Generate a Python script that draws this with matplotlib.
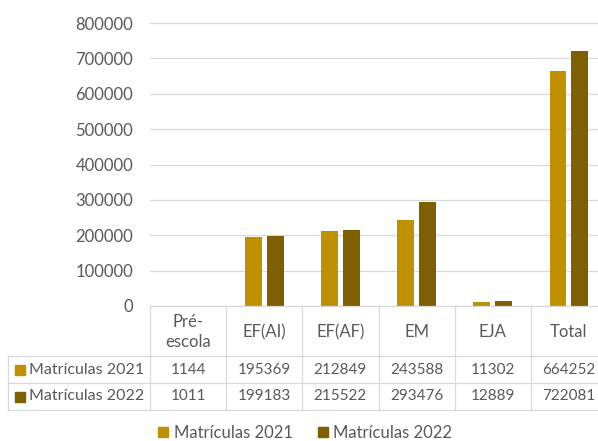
import numpy as np
import matplotlib.pyplot as plt
from matplotlib.lines import Line2D
from matplotlib.patches import Patch, Rectangle

plt.rcParams['font.family'] = ['Lato', 'DejaVu Sans']

categorias = ['Pré-\nescola', 'EF(AI)', 'EF(AF)', 'EM', 'EJA', 'Total']
mat_2021 = [1144, 195369, 212849, 243588, 11302, 664252]
mat_2022 = [1011, 199183, 215522, 293476, 12889, 722081]
series = ['Matrículas 2021', 'Matrículas 2022']
cores = ['#BF9000', '#7F6000']
cinza = '#595959'

W, H = 598, 441
fig = plt.figure(figsize=(W / 100, H / 100), dpi=100)

def fx(px):
    return px / W

def fy(py):
    return 1 - py / H

# area do grafico (passa da borda direita, como no original)
x0, x1 = 150, 607
ytop, ybot = 23, 306
ax = fig.add_axes([fx(x0), fy(ybot), fx(x1 - x0), (ybot - ytop) / H])
ax.set_xlim(-0.5, len(categorias) - 0.5)
ax.set_ylim(0, 800000)
ax.set_yticks(np.arange(0, 800001, 100000))
ax.tick_params(axis='y', length=0, labelsize=12, labelcolor=cinza, pad=12)
ax.set_xticks([])
for s in ax.spines.values():
    s.set_visible(False)
ax.grid(axis='y', color='#D9D9D9', linewidth=0.9)
ax.set_axisbelow(True)

x = np.arange(len(categorias))
w = 0.22
ax.bar(x - 0.143, mat_2021, w, color=cores[0])
ax.bar(x + 0.143, mat_2022, w, color=cores[1])

# tabela de dados
col_w = (x1 - x0) / len(categorias)
r_head, r1, r2, r3 = 306, 356, 383, 410
lc = '#D9D9D9'
lw = 0.9

def hline(y, xa, xb):
    fig.add_artist(Line2D([fx(xa), fx(xb)], [fy(y), fy(y)], color=lc, lw=lw))

def vline(xp, ya, yb):
    fig.add_artist(Line2D([fx(xp), fx(xp)], [fy(ya), fy(yb)], color=lc, lw=lw))

hline(r_head, x0, x1)
for yy in (r1, r2, r3):
    hline(yy, 8, x1)
vline(8, r1, r3)
for i in range(len(categorias) + 1):
    vline(x0 + i * col_w, r_head, r3)

fs = 11
for i, cat in enumerate(categorias):
    cx = x0 + (i + 0.5) * col_w
    fig.text(fx(cx), fy((r_head + r1) / 2 + 1), cat, ha='center', va='center',
             fontsize=12, color=cinza, linespacing=1.3)
    fig.text(fx(cx), fy((r1 + r2) / 2), str(mat_2021[i]), ha='center', va='center',
             fontsize=fs, color=cinza)
    fig.text(fx(cx), fy((r2 + r3) / 2), str(mat_2022[i]), ha='center', va='center',
             fontsize=fs, color=cinza)

for nome, cor, (ya, yb) in zip(series, cores, [(r1, r2), (r2, r3)]):
    yc = (ya + yb) / 2
    fig.add_artist(Rectangle((fx(15), fy(yc + 5)), fx(10), 10 / H, color=cor))
    fig.text(fx(29), fy(yc), nome, ha='left', va='center', fontsize=11.5, color=cinza)

handles = [Patch(color=c) for c in cores]
fig.legend(handles, series, loc='center', bbox_to_anchor=(fx(305), fy(433)),
           ncol=2, frameon=False, fontsize=12, labelcolor=cinza,
           handlelength=0.6, handleheight=0.6, handletextpad=0.35, columnspacing=1.5)

fig.savefig('out.png', dpi=100)
